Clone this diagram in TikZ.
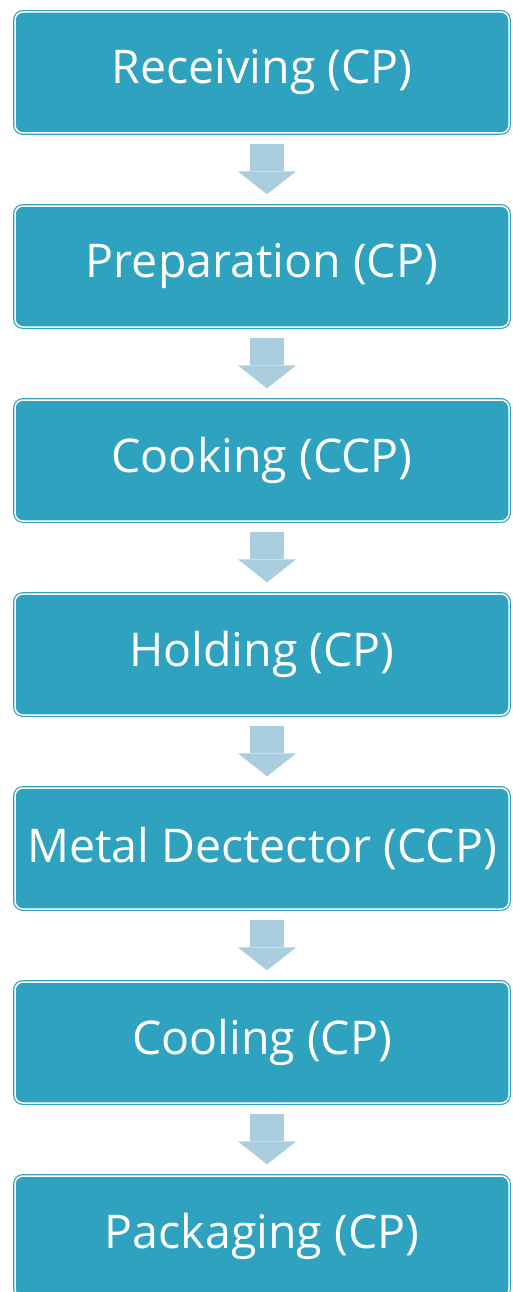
\documentclass[tikz,border=0pt]{standalone}
\usepackage{fontspec}
\setmainfont{Open Sans}
\usetikzlibrary{arrows.meta,calc}

\definecolor{etapa}{RGB}{46,162,191}
\definecolor{seta}{RGB}{170,206,221}

\tikzset{
  etapabox/.style={draw=etapa, line width=1.2pt, double=white, double distance=1.5pt,
    fill=etapa, rounded corners=8pt, inner sep=0pt,
    minimum width=494pt, minimum height=121pt,
    text=white, font=\fontsize{46.5}{52}\selectfont},
  setabloco/.style={draw=seta, line width=34pt,
    -{Triangle[width=58pt,length=23pt,fill=seta,line width=0pt]}}
}

\begin{document}
\begin{tikzpicture}[x=1pt,y=-1pt]
  % área da figura
  \useasboundingbox (0,0) rectangle (512,1292);

  % etapas
  \node[etapabox] (rec)  at (262,72.5)   {Receiving (CP)};
  \node[etapabox] (prep) at (262,266.5)  {Preparation (CP)};
  \node[etapabox] (coz)  at (262,460.5)  {Cooking (CCP)};
  \node[etapabox] (hold) at (262,654.5)  {Holding (CP)};
  \node[etapabox] (met)  at (262,848.5)  {Metal Dectector (CCP)};
  \node[etapabox] (cool) at (262,1042.5) {Cooling (CP)};
  \node[etapabox] (pack) at (262,1236.5) {Packaging (CP)};

  % setas entre as etapas
  \draw[setabloco] ($(rec.south)+(5,10)$)  -- ($(prep.north)+(5,-11)$);
  \draw[setabloco] ($(prep.south)+(5,10)$) -- ($(coz.north)+(5,-11)$);
  \draw[setabloco] ($(coz.south)+(5,10)$)  -- ($(hold.north)+(5,-11)$);
  \draw[setabloco] ($(hold.south)+(5,10)$) -- ($(met.north)+(5,-11)$);
  \draw[setabloco] ($(met.south)+(5,10)$)  -- ($(cool.north)+(5,-11)$);
  \draw[setabloco] ($(cool.south)+(5,10)$) -- ($(pack.north)+(5,-11)$);
\end{tikzpicture}
\end{document}
